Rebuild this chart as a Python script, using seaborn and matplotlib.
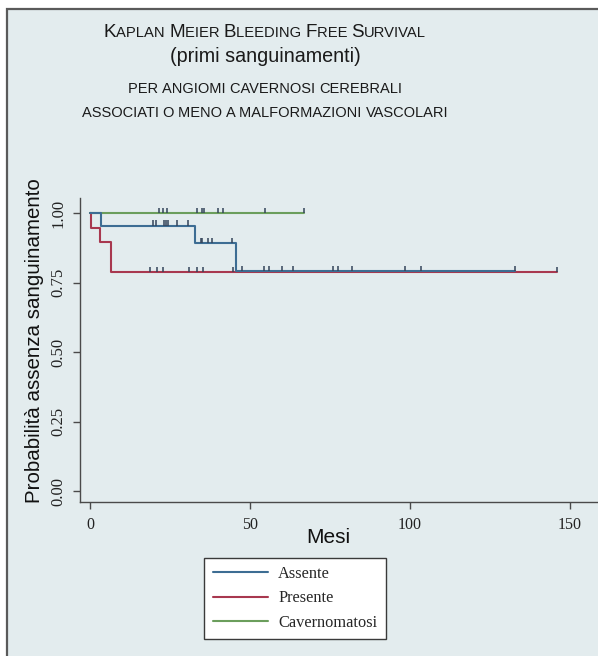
import matplotlib
matplotlib.use("Agg")
import matplotlib.pyplot as plt
import seaborn as sns
import pandas as pd
import numpy as np
from matplotlib.offsetbox import TextArea, HPacker, AnnotationBbox
from matplotlib.patches import Rectangle
from matplotlib.lines import Line2D

# ---------------- data ----------------
groups = ["Assente", "Presente", "Cavernomatosi"]
colors = {"Assente": "#3d6d93", "Presente": "#a8384f", "Cavernomatosi": "#6b9e5c"}

assente_events = [3.3, 32.8, 45.6]
assente_surv = [0.955, 0.892, 0.791]
assente_end = 132.8
assente_censored = [19.8, 20.6, 23.1, 23.8, 24.5, 27.1, 30.7,
                    34.7, 35.1, 37.0, 38.0, 44.3,
                    47.6, 54.4, 56.0, 59.9, 63.5, 76.0, 77.6, 81.8,
                    98.4, 103.3, 132.8]

presente_events = [0.2, 3.0, 6.5]
presente_surv = [0.947, 0.895, 0.787]
presente_end = 146.0
presente_censored = [18.8, 20.8, 22.9, 31.0, 33.5, 35.4, 44.6, 146.0]

cavern_events = []
cavern_surv = []
cavern_end = 66.9
cavern_censored = [21.6, 22.9, 24.0, 33.5, 35.1, 35.6, 40.1, 41.5, 54.7, 66.9]

x_ticks = [0, 50, 100, 150]
y_ticks = [0.00, 0.25, 0.50, 0.75, 1.00]
y_ticklabels = ["0.00", "0.25", "0.50", "0.75", "1.00"]

series = {
    "Assente": (assente_events, assente_surv, assente_end, assente_censored),
    "Presente": (presente_events, presente_surv, presente_end, presente_censored),
    "Cavernomatosi": (cavern_events, cavern_surv, cavern_end, cavern_censored),
}

rows = []
for g, (ev, sv, end, cens) in series.items():
    xs = [0.0] + list(ev) + [end]
    ys = [1.0] + list(sv) + [([1.0] + list(sv))[-1]]
    for x, y in zip(xs, ys):
        rows.append({"group": g, "time": x, "surv": y})
df = pd.DataFrame(rows)

# ---------------- figure ----------------
sns.set_theme(style="white")
plt.rcParams["font.family"] = ["Liberation Sans", "DejaVu Sans"]

W, H = 598, 656
bg = "#e3ecee"
fig = plt.figure(figsize=(W / 100, H / 100), dpi=100, facecolor="white")
fig.patches.append(Rectangle((7 / W, -0.1), 1.2, 1.1 - 9 / H, transform=fig.transFigure,
                             facecolor=bg, edgecolor="#5a5a5a", lw=1.6, zorder=-5))

ax = fig.add_axes([80 / W, 1 - 502 / H, 518 / W, 304 / H])
ax.set_facecolor("none")

draw_order = ["Presente", "Cavernomatosi", "Assente"]
for g in draw_order:
    sub = df[df["group"] == g]
    sns.lineplot(data=sub, x="time", y="surv", ax=ax, color=colors[g], estimator=None,
                 sort=False, drawstyle="steps-post", lw=1.5, legend=False)

tick_col = "#34445a"
for g in draw_order:
    ev, sv, end, cens = series[g]
    evx = np.array([0.0] + list(ev))
    evy = np.array([1.0] + list(sv))
    for t in cens:
        lvl = evy[np.searchsorted(evx, t, side="right") - 1]
        ax.vlines(t, lvl, lvl + 0.02, color=tick_col, lw=1.1, zorder=5)

ax.set_xlim(-3.125, 158.75)
ax.set_ylim(-0.0396, 1.055)
ax.set_xticks(x_ticks)
ax.set_xticklabels([str(v) for v in x_ticks], family="Liberation Serif", fontsize=11.5)
ax.set_yticks(y_ticks)
ax.set_yticklabels(y_ticklabels, family="Liberation Serif", fontsize=12, rotation=90,
                   va="center")
for s in ["top", "right"]:
    ax.spines[s].set_visible(False)
for s in ["left", "bottom"]:
    ax.spines[s].set_color("#4a4a4a")
    ax.spines[s].set_linewidth(1.0)
ax.tick_params(bottom=True, left=True, direction="out", length=5, width=1,
               color="#4a4a4a", labelcolor="#222222")
ax.tick_params(axis="x", pad=6)
ax.tick_params(axis="y", pad=5)

ax.set_xlabel("Mesi", fontsize=15, color="#111111")
ax.xaxis.set_label_coords(248 / 518, -26 / 304)
ax.set_ylabel("Probabilità assenza sanguinamento", fontsize=14.8, color="#111111")
ax.yaxis.set_label_coords(-36 / 518, 161 / 304)

# ---------------- title (small caps) ----------------
def smallcaps_line(text, big, small, first_big=True):
    parts = []
    words = text.split(" ")
    for i, w in enumerate(words):
        sep = " " if i < len(words) - 1 else ""
        if first_big:
            parts.append(TextArea(w[0], textprops=dict(size=big, color="#1a1a1a")))
            rest = w[1:].upper() + sep
            if rest:
                parts.append(TextArea(rest, textprops=dict(size=small, color="#1a1a1a")))
        else:
            parts.append(TextArea(w.upper() + sep, textprops=dict(size=small, color="#1a1a1a")))
    return HPacker(children=parts, align="baseline", pad=0, sep=0)

cx = 265
title_lines = [
    (smallcaps_line("Kaplan Meier Bleeding Free Survival", 13.6, 10.6), 38),
    (TextArea("(primi sanguinamenti)", textprops=dict(size=14.2, color="#1a1a1a")), 63),
    (smallcaps_line("per angiomi cavernosi cerebrali", 10.5, 10.5, first_big=False), 93),
    (smallcaps_line("associati o meno a malformazioni vascolari", 10.5, 10.5, first_big=False), 117),
]
for box, base in title_lines:
    ab = AnnotationBbox(box, (cx / W, 1 - (base + 3) / H), xycoords="figure fraction",
                        box_alignment=(0.5, 0.0), frameon=False, pad=0)
    fig.add_artist(ab)

# ---------------- legend ----------------
handles = [Line2D([0], [0], color=colors[g], lw=1.5) for g in groups]
leg = fig.legend(handles, groups, loc="upper center",
                 bbox_to_anchor=(295 / W, 1 - 558 / H), bbox_transform=fig.transFigure,
                 prop=dict(family="Liberation Serif", size=11.8), frameon=True,
                 fancybox=False, edgecolor="#3a3a3a", framealpha=1, facecolor="white",
                 borderpad=0.5, handlelength=3.4, handletextpad=0.6, labelspacing=0.5,
                 borderaxespad=0)
leg.get_frame().set_linewidth(1.0)

fig.savefig("out.png", dpi=100, facecolor="white")
